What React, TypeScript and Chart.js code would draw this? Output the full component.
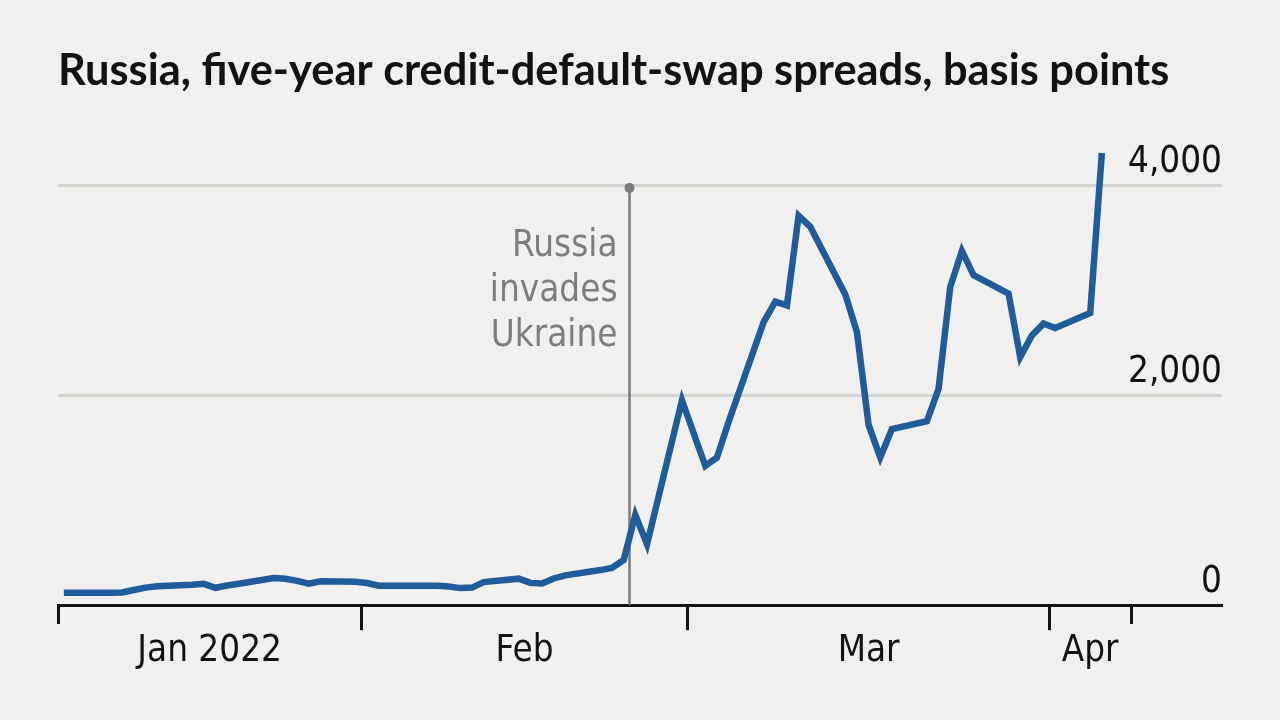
import React, { useEffect, useRef } from 'react';
import { Chart, registerables } from 'chart.js';

Chart.register(...registerables);

// ---------- data ----------
const TITLE = 'Russia, five-year credit-default-swap spreads, basis points';

const DATES = [
  '2022-01-06', '2022-01-07', '2022-01-10', '2022-01-11', '2022-01-12', '2022-01-13', '2022-01-14',
  '2022-01-17', '2022-01-18', '2022-01-19', '2022-01-20', '2022-01-21',
  '2022-01-24', '2022-01-25', '2022-01-26', '2022-01-27', '2022-01-28',
  '2022-01-31', '2022-02-01', '2022-02-02', '2022-02-03', '2022-02-04',
  '2022-02-07', '2022-02-08', '2022-02-09', '2022-02-10', '2022-02-11',
  '2022-02-14', '2022-02-15', '2022-02-16', '2022-02-17', '2022-02-18',
  '2022-02-21', '2022-02-22', '2022-02-23', '2022-02-24', '2022-02-25',
  '2022-02-28', '2022-03-01', '2022-03-02', '2022-03-03', '2022-03-04',
  '2022-03-07', '2022-03-08', '2022-03-09', '2022-03-10', '2022-03-11',
  '2022-03-14', '2022-03-15', '2022-03-16', '2022-03-17', '2022-03-18',
  '2022-03-21', '2022-03-22', '2022-03-23', '2022-03-24', '2022-03-25',
  '2022-03-28', '2022-03-29', '2022-03-30', '2022-03-31', '2022-04-01',
  '2022-04-04', '2022-04-05',
];

const SPREADS = [
  118, 118, 118, 121, 145, 168, 180,
  195, 204, 166, 188, 205,
  260, 252, 232, 205, 228,
  224, 212, 186, 185, 185,
  185, 178, 163, 168, 220,
  253, 213, 207, 255, 285,
  335, 355, 432, 862, 581,
  1955, 1640, 1330, 1410, 1750,
  2700, 2895, 2860, 3715, 3610,
  2965, 2606, 1720, 1410, 1681,
  1755, 2065, 3037, 3380, 3149,
  2973, 2367, 2574, 2686, 2645,
  2788, 4313,
];

const Y_TICKS = [0, 2000, 4000];
const Y_MAX = 4400;

// month boundaries (tick marks) and month labels placed between them
const X_BOUNDARIES = ['2022-01-06', '2022-02-01', '2022-03-01', '2022-04-01', '2022-04-08'];
const MONTH_LABELS = ['Jan 2022', 'Feb', 'Mar', 'Apr'];
const X_MAX_DAY = 104.8; // axis runs on under the right-hand value labels

const EVENT_DATE = '2022-02-24';
const EVENT_LABEL = ['Russia', 'invades', 'Ukraine'];

// ---------- helpers ----------
const DAY_MS = 86400000;
const YEAR_START = Date.parse('2022-01-01T00:00:00Z');
const dayOf = (d: string) => (Date.parse(d + 'T00:00:00Z') - YEAR_START) / DAY_MS;

const NARROW = "'Liberation Sans Narrow', 'Arial Narrow', 'DejaVu Sans Condensed', Roboto, sans-serif";
const NARROW_SIZE = 36.5;
const BG = '#f1f0ee';
const INK = '#121212';
const GREY = '#7b7b7b';
const BLUE = '#1f5c9c';

const boundaryDays = X_BOUNDARIES.map(dayOf);
const labelDays = MONTH_LABELS.map((_, i) => (boundaryDays[i] + boundaryDays[i + 1]) / 2);
const xTickValues = [...boundaryDays, ...labelDays].sort((a, b) => a - b);
const labelByDay = new Map<number, string>(labelDays.map((d, i) => [d, MONTH_LABELS[i]]));
const edgeSet = new Set<number>(boundaryDays);
const shortEdges = new Set<number>([boundaryDays[0], boundaryDays[boundaryDays.length - 1]]);

const points = DATES.map((d, i) => ({ x: dayOf(d) + 0.5, y: SPREADS[i] }));

const eventPlugin = {
  id: 'eventMarker',
  beforeDatasetsDraw(chart: any) {
    const { ctx, scales } = chart;
    const x = scales.x;
    const y = scales.y;
    const px = x.getPixelForValue(dayOf(EVENT_DATE));
    const top = y.getPixelForValue(Y_TICKS[Y_TICKS.length - 1]) + 2;
    const bottom = y.getPixelForValue(0);
    ctx.save();
    ctx.strokeStyle = GREY;
    ctx.lineWidth = 2.5;
    ctx.beginPath();
    ctx.moveTo(px, top);
    ctx.lineTo(px, bottom);
    ctx.stroke();
    ctx.fillStyle = GREY;
    ctx.beginPath();
    ctx.arc(px, top, 5, 0, Math.PI * 2);
    ctx.fill();
    ctx.font = `${NARROW_SIZE}px ${NARROW}`;
    ctx.textAlign = 'right';
    ctx.textBaseline = 'alphabetic';
    ctx.fillStyle = '#7d7d7d';
    EVENT_LABEL.forEach((t, i) => ctx.fillText(t, px - 12, top + 68 + i * 45));
    ctx.restore();
  },
};

export default function App() {
  const canvasRef = useRef<HTMLCanvasElement | null>(null);

  useEffect(() => {
    if (!canvasRef.current) return;
    const chart = new Chart(canvasRef.current, {
      type: 'line',
      data: {
        datasets: [
          {
            data: points,
            borderColor: BLUE,
            borderWidth: 6.5,
            pointRadius: 0,
            tension: 0,
            fill: false,
            clip: false as any,
          },
        ],
      },
      options: {
        animation: false,
        responsive: false,
        devicePixelRatio: 1,
        events: [],
        layout: { padding: { left: 58, right: 58, top: 0, bottom: 48 } },
        plugins: {
          legend: { display: false },
          tooltip: { enabled: false },
          title: {
            display: true,
            text: TITLE,
            align: 'start',
            color: INK,
            font: { family: 'Lato, "Open Sans", sans-serif', size: 43.4, weight: 'bold', lineHeight: 1.2 },
            padding: { top: 44.5, bottom: 47.4 },
          },
        },
        scales: {
          x: {
            type: 'linear',
            position: 'bottom',
            min: boundaryDays[0],
            max: X_MAX_DAY,
            afterBuildTicks: (scale: any) => {
              scale.ticks = xTickValues.map((v) => ({ value: v }));
            },
            ticks: {
              autoSkip: false,
              maxRotation: 0,
              minRotation: 0,
              padding: -1,
              color: INK,
              font: { family: NARROW, size: NARROW_SIZE, lineHeight: 1.2 },
              callback: (v: any) => labelByDay.get(Number(v)) ?? '',
            },
            grid: {
              display: true,
              drawOnChartArea: false,
              drawTicks: true,
              tickLength: 25,
              tickWidth: 3,
              tickColor: (c: any) => (c.tick && edgeSet.has(c.tick.value) ? INK : 'rgba(0,0,0,0)'),
              tickBorderDash: (c: any) => (c.tick && shortEdges.has(c.tick.value) ? [17, 100] : []),
            } as any,
            border: { display: true, color: INK, width: 3 },
          },
          y: {
            type: 'linear',
            position: 'right',
            min: 0,
            max: Y_MAX,
            afterBuildTicks: (scale: any) => {
              scale.ticks = Y_TICKS.map((v) => ({ value: v }));
            },
            ticks: {
              mirror: true,
              padding: 0,
              labelOffset: -23,
              color: INK,
              font: { family: NARROW, size: NARROW_SIZE, lineHeight: 1.2 },
              callback: (v: any) => Number(v).toLocaleString('en-US'),
            },
            grid: {
              drawTicks: false,
              lineWidth: 3,
              color: (c: any) => (c.tick && c.tick.value === 0 ? 'rgba(0,0,0,0)' : '#d4d3d0'),
            },
            border: { display: false },
          },
        },
      },
      plugins: [eventPlugin],
    } as any);
    return () => chart.destroy();
  }, []);

  return (
    <div
      style={{
        position: 'fixed',
        left: 0,
        top: 0,
        width: 1280,
        height: 720,
        background: BG,
        overflow: 'hidden',
      }}
    >
      <canvas ref={canvasRef} width={1280} height={720} style={{ display: 'block', width: 1280, height: 720 }} />
    </div>
  );
}
